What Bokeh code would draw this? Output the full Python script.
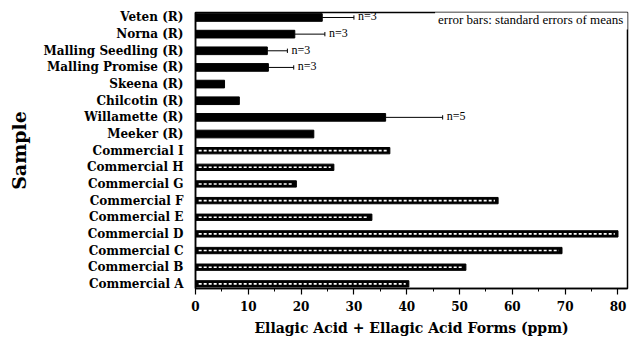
from bokeh.plotting import figure
from bokeh.models import Range1d, FixedTicker, SingleIntervalTicker, Label, LabelSet, ColumnDataSource
from bokeh.embed import file_html
from bokeh.resources import INLINE

# ---- data (bottom to top) ----
samples = ["Commercial A", "Commercial B", "Commercial C", "Commercial D", "Commercial E",
           "Commercial F", "Commercial G", "Commercial H", "Commercial I",
           "Meeker (R)", "Willamette (R)", "Chilcotin (R)", "Skeena (R)",
           "Malling Promise (R)", "Malling Seedling (R)", "Norna (R)", "Veten (R)"]
values = [40.4, 51.2, 69.4, 80.0, 33.4, 57.3, 19.1, 26.2, 36.8,
          22.4, 36.0, 8.3, 5.5, 13.8, 13.6, 18.8, 24.0]
kind = ["commercial"] * 9 + ["R"] * 8

err_samples = ["Veten (R)", "Norna (R)", "Malling Seedling (R)", "Malling Promise (R)", "Willamette (R)"]
err_se = [6.0, 5.7, 3.8, 4.8, 10.8]
err_n = ["n=3", "n=3", "n=3", "n=3", "n=5"]

x_ticks_interval = 10
x_start, x_end = 0, 81.8
y_start, y_end = -0.28, 16.3

ypos = list(range(len(samples)))
label_map = {i: s for i, s in zip(ypos, samples)}

serif_b = "DejaVu Serif"

p = figure(width=629, height=344, output_backend="svg", toolbar_location=None,
           x_range=Range1d(x_start, x_end), y_range=Range1d(y_start, y_end),
           min_border_left=195, min_border_top=12, min_border_bottom=56, min_border_right=2)
p.grid.visible = False
p.background_fill_color = "white"
p.border_fill_color = "white"
p.outline_line_color = "black"
p.outline_line_width = 1.5
p.outline_line_alpha = 1.0

# bars
rx = [v for v, k in zip(values, kind) if k == "R"]
ry = [y for y, k in zip(ypos, kind) if k == "R"]
cx = [v for v, k in zip(values, kind) if k == "commercial"]
cy = [y for y, k in zip(ypos, kind) if k == "commercial"]

p.hbar(y=ry, left=0, right=rx, height=0.46, fill_color="black", line_color="black")
p.hbar(y=cy, left=0, right=cx, height=0.38, fill_color="black", line_color="black")
p.segment(x0=[0.6] * len(cx), y0=cy, x1=[v - 0.6 for v in cx], y1=cy,
          line_color="white", line_width=1.6, line_dash="3 2")

# error bars
ey = [samples.index(s) for s in err_samples]
ev = [values[i] for i in ey]
ee = [v + s for v, s in zip(ev, err_se)]
p.segment(x0=ev, y0=ey, x1=ee, y1=ey, line_color="black", line_width=1)
p.segment(x0=ee, y0=[y - 0.13 for y in ey], x1=ee, y1=[y + 0.13 for y in ey],
          line_color="black", line_width=1)
src = ColumnDataSource(dict(x=ee, y=ey, t=err_n))
p.add_layout(LabelSet(x="x", y="y", text="t", source=src, x_offset=4, y_offset=1,
                      text_font_size="12px", text_font="Liberation Serif",
                      text_baseline="middle", text_color="black"))

note = Label(x=x_end, y=y_end, text="error bars:  standard errors of means",
             text_align="right", text_baseline="top", x_offset=2, y_offset=4,
             text_font="Liberation Serif", text_font_size="13px", text_color="black",
             background_fill_color="white", background_fill_alpha=1.0, padding=3)
p.add_layout(note)

# x axis
xa = p.xaxis[0]
xa.ticker = SingleIntervalTicker(interval=x_ticks_interval, num_minor_ticks=2)
xa.axis_label = "Ellagic Acid + Ellagic Acid Forms (ppm)"
xa.axis_label_text_font = serif_b
xa.axis_label_text_font_style = "bold"
xa.axis_label_text_font_size = "14px"
xa.axis_label_text_color = "black"
xa.axis_label_standoff = 6
xa.major_label_text_font = serif_b
xa.major_label_text_font_style = "bold"
xa.major_label_text_font_size = "12px"
xa.major_label_text_color = "black"
xa.major_label_standoff = 6
xa.major_tick_in = 0
xa.major_tick_out = 6
xa.minor_tick_in = 0
xa.minor_tick_out = 3
xa.axis_line_width = 1.5
xa.major_tick_line_width = 1.2
xa.axis_line_color = "black"
xa.major_tick_line_color = "black"
xa.minor_tick_line_color = "black"

# y axis
ya = p.yaxis[0]
ya.ticker = FixedTicker(ticks=ypos)
ya.major_label_overrides = label_map
ya.axis_label = "Sample"
ya.axis_label_text_font = serif_b
ya.axis_label_text_font_style = "bold"
ya.axis_label_text_font_size = "19px"
ya.axis_label_text_color = "black"
ya.axis_label_standoff = 10
ya.major_label_text_font = serif_b
ya.major_label_text_font_style = "bold"
ya.major_label_text_font_size = "12px"
ya.major_label_text_color = "black"
ya.major_label_standoff = 12
ya.major_tick_out = 0
ya.major_tick_in = 0
ya.minor_tick_out = 0
ya.axis_line_width = 1.5
ya.axis_line_color = "black"

open("out.html", "w").write(file_html(p, INLINE))
